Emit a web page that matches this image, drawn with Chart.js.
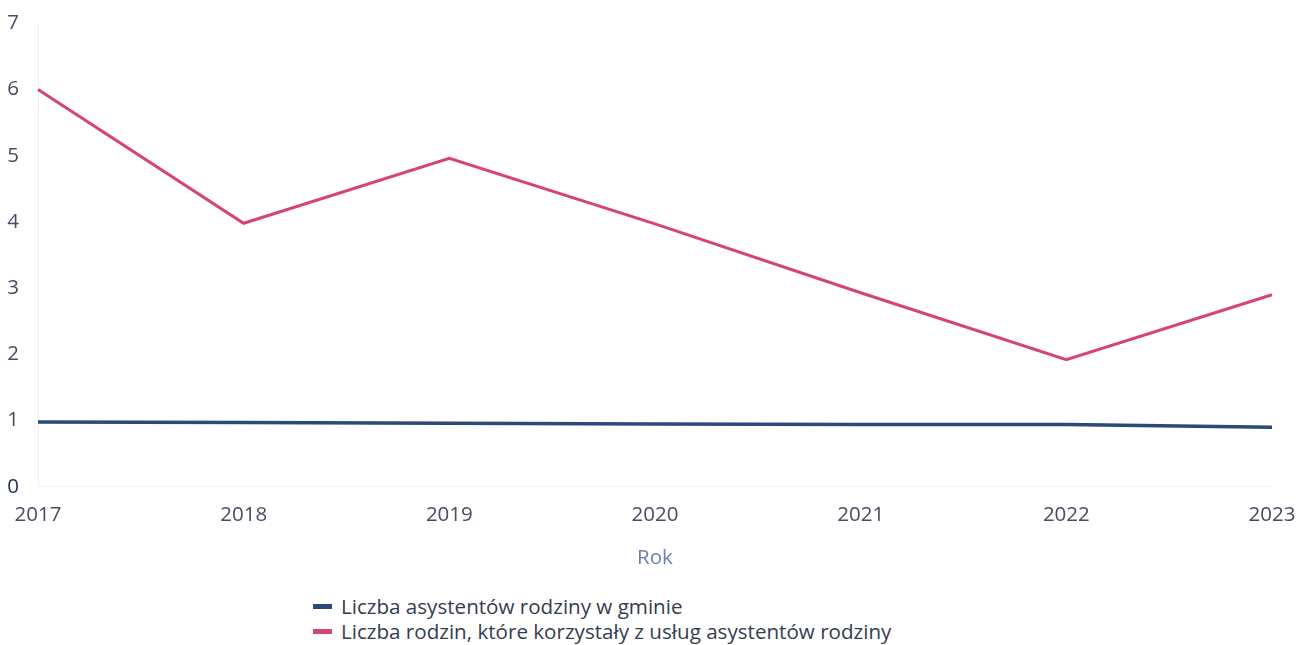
<!DOCTYPE html>
<html>
<head>
<meta charset="utf-8">
<script src="https://cdn.jsdelivr.net/npm/chart.js@4/dist/chart.umd.min.js"></script>
<style>
  html, body { margin: 0; padding: 0; background: #fff; }
  body { width: 1308px; height: 645px; overflow: hidden; font-family: "Open Sans", sans-serif; }
  #wrap { position: relative; width: 1308px; height: 574px; }
  #legend { position: absolute; left: 313px; top: 594px; font-size: 20.6px; color: #353c50; line-height: 25px; }
  #legend .item { display: flex; align-items: center; white-space: nowrap; }
  #legend .swatch { display: inline-block; width: 19px; height: 5px; margin-right: 9px; }
</style>
</head>
<body>
<div id="wrap"><canvas id="chart"></canvas></div>
<div id="legend"></div>
<script>
// data
const years = ["2017", "2018", "2019", "2020", "2021", "2022", "2023"];
const assistants = [0.98, 0.97, 0.96, 0.95, 0.94, 0.94, 0.9];
const families = [6, 3.98, 4.96, 3.97, 2.93, 1.92, 2.9];
const seriesNames = [
  "Liczba asystentów rodziny w gminie",
  "Liczba rodzin, które korzystały z usług asystentów rodziny"
];
const yTicks = [0, 1, 2, 3, 4, 5, 6, 7];

const blue = "#2a4a78";
const pink = "#d6456f";

const chart = new Chart(document.getElementById("chart"), {
  type: "line",
  data: {
    labels: years,
    datasets: [
      { label: seriesNames[0], data: assistants, borderColor: blue, backgroundColor: blue, borderWidth: 3.5, pointRadius: 0, tension: 0 },
      { label: seriesNames[1], data: families, borderColor: pink, backgroundColor: pink, borderWidth: 3, pointRadius: 0, tension: 0 }
    ]
  },
  options: {
    responsive: true,
    maintainAspectRatio: false,
    animation: false,
    layout: { padding: { top: 6, right: 36, left: 4, bottom: 0 } },
    plugins: { legend: { display: false }, tooltip: { enabled: false } },
    scales: {
      x: {
        offset: false,
        grid: { display: false },
        border: { color: "#f1f1f1" },
        ticks: { color: "#464d60", font: { family: "Open Sans", size: 20.5 }, padding: 8, maxRotation: 0 },
        title: { display: true, text: "Rok", color: "#6f7db5", font: { family: "Open Sans", size: 20.5 }, padding: { top: 10 } }
      },
      y: {
        min: 0,
        max: 7,
        afterBuildTicks: (s) => { s.ticks = yTicks.map(v => ({ value: v })); },
        afterFit: (s) => { s.width = 34; },
        grid: { display: false },
        border: { color: "#f1f1f1" },
        ticks: {
          color: (c) => c.tick.value === 0 ? "#1f2d55" : "#464d60",
          font: { family: "Open Sans", size: 20.5 },
          padding: 11
        }
      }
    }
  }
});

// stacked legend under the chart
const legend = document.getElementById("legend");
chart.data.datasets.forEach(ds => {
  const row = document.createElement("div");
  row.className = "item";
  const sw = document.createElement("span");
  sw.className = "swatch";
  sw.style.background = ds.borderColor;
  row.appendChild(sw);
  row.appendChild(document.createTextNode(ds.label));
  legend.appendChild(row);
});
</script>
</body>
</html>
